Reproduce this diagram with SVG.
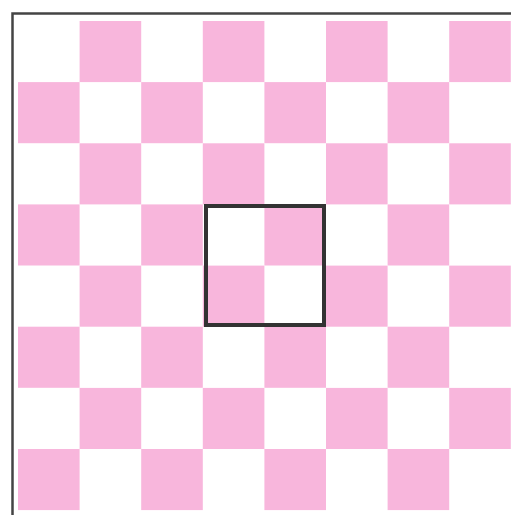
<svg xmlns="http://www.w3.org/2000/svg" width="511" height="515" viewBox="0 0 511 515">
<style>
.p{fill:#F8B6DC}
.frame{fill:none;stroke:#444;stroke-width:2.5}
.sel{fill:none;stroke:#333;stroke-width:4}
</style>
<rect width="511" height="515" fill="#fff"/>
<g id="board">
<defs><rect id="c" width="61.6" height="61.1" class="p"/></defs>
<use href="#c" x="79.6" y="21"/><use href="#c" x="202.8" y="21"/><use href="#c" x="326" y="21"/><use href="#c" x="449.2" y="21"/>
<use href="#c" x="18" y="82.1"/><use href="#c" x="141.2" y="82.1"/><use href="#c" x="264.4" y="82.1"/><use href="#c" x="387.6" y="82.1"/>
<use href="#c" x="79.6" y="143.3"/><use href="#c" x="202.8" y="143.3"/><use href="#c" x="326" y="143.3"/><use href="#c" x="449.2" y="143.3"/>
<use href="#c" x="18" y="204.4"/><use href="#c" x="141.2" y="204.4"/><use href="#c" x="264.4" y="204.4"/><use href="#c" x="387.6" y="204.4"/>
<use href="#c" x="79.6" y="265.6"/><use href="#c" x="202.8" y="265.6"/><use href="#c" x="326" y="265.6"/><use href="#c" x="449.2" y="265.6"/>
<use href="#c" x="18" y="326.7"/><use href="#c" x="141.2" y="326.7"/><use href="#c" x="264.4" y="326.7"/><use href="#c" x="387.6" y="326.7"/>
<use href="#c" x="79.6" y="387.9"/><use href="#c" x="202.8" y="387.9"/><use href="#c" x="326" y="387.9"/><use href="#c" x="449.2" y="387.9"/>
<use href="#c" x="18" y="449"/><use href="#c" x="141.2" y="449"/><use href="#c" x="264.4" y="449"/><use href="#c" x="387.6" y="449"/>
</g>
<g id="frame">
<path class="frame" d="M12.5,515 V13.5 H511"/>
</g>
<g id="selection">
<rect class="sel" x="206" y="206" width="118" height="119"/>
</g>
</svg>
